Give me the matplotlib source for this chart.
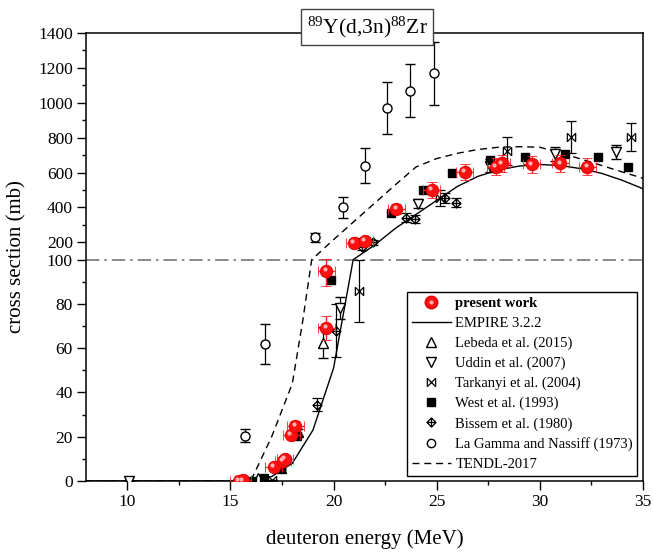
import numpy as np
import matplotlib
matplotlib.use("Agg")
from matplotlib import pyplot as plt
from matplotlib.lines import Line2D
from matplotlib.path import Path
from matplotlib.legend_handler import HandlerTuple
import matplotlib.transforms as mtransforms

plt.rcParams['font.family'] = ['Liberation Serif', 'DejaVu Serif']
plt.rcParams['mathtext.fontset'] = 'custom'
plt.rcParams['mathtext.rm'] = 'Liberation Serif'
plt.rcParams['mathtext.it'] = 'Liberation Serif:italic'

#%% data
pw_x = [15.4, 15.6, 17.1, 17.55, 17.65, 17.95, 18.15, 19.65, 19.65, 21.0, 21.5,
        23.05, 24.75, 26.35, 27.85, 28.15, 29.6, 31.0, 32.3]
pw_y = [0.2, 0.3, 6.5, 9.0, 10.0, 21, 25, 69, 95, 195, 207,
        390, 500, 602, 634, 652, 647, 652, 634]
pw_err = [0.1, 0.1, 0.6, 0.8, 0.9, 1.6, 2.0, 5.5, 7, 15, 16,
          30, 48, 46, 48, 50, 50, 48, 48]
pw_xerr = 0.4

empire_x = [8, 15, 16, 17, 18, 19, 20, 20.95, 22, 23, 24, 25, 26, 27, 28, 29,
            30, 31, 32, 33, 34, 35]
empire_y = [0, 0, 0.3, 2, 8, 23, 51, 100, 185, 280, 360, 440, 520, 578, 615,
            637, 646, 640, 622, 595, 555, 507]

tendl_x = [8, 15, 16, 17, 18, 18.5, 18.94, 20, 21, 22, 23, 24, 25, 26, 27, 28,
           29, 30, 31, 32, 33, 34, 35]
tendl_y = [0, 0, 0.3, 20, 44, 72, 100, 215, 320, 425, 530, 632, 680, 710, 732,
           745, 748, 745, 712, 677, 640, 603, 567]

lebeda_x = [16.35, 17.45, 18.3, 19.5]
lebeda_y = [1.2, 5.7, 22, 62.5]
lebeda_err = [0.2, 0.5, 1.5, 7]

uddin_x = [10.1, 20.3, 24.1, 27.6, 30.75, 33.7]
uddin_y = [0, 78, 422, 640, 706, 720]
uddin_err = [0, 5, 25, 35, 40, 40]

tark_x = [17.0, 21.25, 25.15, 28.4, 31.5, 34.4]
tark_y = [0.3, 86, 455, 722, 803, 803]
tark_err = [0, 14, 45, 80, 90, 80]

west_x = [16.05, 16.65, 17.45, 18.25, 19.9, 21.05, 22.8, 24.35, 25.75, 27.6,
          29.3, 31.2, 32.8, 34.25]
west_y = [0.2, 1.2, 6, 20.5, 91, 200, 370, 500, 596, 674, 689, 709, 689, 631]

bissem_x = [19.2, 20.1, 21.4, 21.9, 23.5, 23.95, 25.4, 25.95]
bissem_y = [34.5, 68, 170, 200, 340, 333, 455, 428]
bissem_err = [3, 12, 15, 15, 25, 25, 30, 25]

lagamma_x = [15.7, 16.7, 19.1, 20.45, 21.5, 22.6, 23.7, 24.85]
lagamma_y = [20.5, 62, 229, 400, 640, 970, 1070, 1170]
lagamma_err = [3, 9, 25, 60, 100, 150, 150, 180]

labels = ['present work', 'EMPIRE 3.2.2', 'Lebeda et al. (2015)',
          'Uddin et al. (2007)', 'Tarkanyi et al. (2004)', 'West et al. (1993)',
          'Bissem et al. (1980)', 'La Gamma and Nassiff (1973)', 'TENDL-2017']

yticks_major = [0, 20, 40, 60, 80, 100, 200, 400, 600, 800, 1000, 1200, 1400]
yticks_minor = [10, 30, 50, 70, 90, 300, 500, 700, 900, 1100, 1300]

#%% broken y scale: 0-100 on the lower half, 100-1400 on the upper half
BREAK = 100.0
YMAX = 1400.0
F = 0.494

def fwd(y):
    y = np.asarray(y, dtype=float)
    return np.where(y <= BREAK, y / BREAK * F, F + (y - BREAK) / (YMAX - BREAK) * (1 - F))

def inv(v):
    v = np.asarray(v, dtype=float)
    return np.where(v <= F, v / F * BREAK, BREAK + (v - F) / (1 - F) * (YMAX - BREAK))

# markers
tark_marker = Path([(-1, -1), (1, 1), (-1, 1), (1, -1), (-1, -1), (-1, 1), (1, -1), (1, 1)],
                   [Path.MOVETO, Path.LINETO, Path.MOVETO, Path.LINETO,
                    Path.MOVETO, Path.LINETO, Path.MOVETO, Path.LINETO])
bissem_marker = Path([(0, 1), (1, 0), (0, -1), (-1, 0), (0, 1), (0, 1), (0, -1), (-1, 0), (1, 0)],
                     [Path.MOVETO, Path.LINETO, Path.LINETO, Path.LINETO, Path.CLOSEPOLY,
                      Path.MOVETO, Path.LINETO, Path.MOVETO, Path.LINETO])

#%%
fig = plt.figure(figsize=(6.53, 5.53), dpi=100)
ax = fig.add_axes([0.1317, 0.1302, 0.853, 0.8101])
ax.set_yscale('function', functions=(fwd, inv))
ax.set_xlim(8, 35)
ax.set_ylim(0, YMAX)

ax.axhline(BREAK, color='#777777', lw=1.2, ls=(0, (8, 3, 1.5, 3)), zorder=1)

ax.plot(empire_x, empire_y, color='black', lw=1.0, zorder=2)
ax.plot(tendl_x, tendl_y, color='black', lw=1.0, ls=(0, (5, 3.5)), zorder=2)

eb = dict(ecolor='black', elinewidth=0.9, capsize=3.5, capthick=0.9, ls='none', zorder=3)
ax.errorbar(lagamma_x, lagamma_y, yerr=lagamma_err, marker='o', ms=6.5,
            mfc='white', mec='black', mew=1.0, **eb)
ax.errorbar(bissem_x, bissem_y, yerr=bissem_err, marker=bissem_marker, ms=6.5,
            mfc='none', mec='black', mew=0.9, **eb)
ax.errorbar(tark_x, tark_y, yerr=tark_err, marker=tark_marker, ms=6,
            mfc='none', mec='black', mew=0.9, **eb)
ax.errorbar(uddin_x, uddin_y, yerr=uddin_err, marker='v', ms=7,
            mfc='white', mec='black', mew=1.0, **eb)
ax.errorbar(lebeda_x, lebeda_y, yerr=lebeda_err, marker='^', ms=7,
            mfc='white', mec='black', mew=1.0, **eb)
ax.plot(west_x, west_y, 's', ms=5.5, color='black', zorder=4)

ax.errorbar(pw_x, pw_y, yerr=pw_err, xerr=pw_xerr, marker='o', ms=9,
            mfc='#ff1010', mec='#e00000', mew=0.6, ecolor='#ff2020',
            elinewidth=1.0, capsize=3.5, capthick=1.0, ls='none', zorder=5)
shine = mtransforms.offset_copy(ax.transData, fig=fig, x=-1.3, y=1.3, units='points')
ax.plot(pw_x, pw_y, 'o', ms=3, color='#ffb0b0', mec='none', transform=shine, zorder=6)

# axes styling
ax.set_xticks([10, 15, 20, 25, 30, 35])
ax.set_xticks([12.5, 17.5, 22.5, 27.5, 32.5], minor=True)
ax.set_yticks(yticks_major)
ax.set_yticklabels([str(t) for t in yticks_major])
ax.set_yticks(yticks_minor, minor=True)
ax.yaxis.set_minor_formatter(plt.NullFormatter())
ax.tick_params(which='major', direction='out', length=6.5, width=1.0, labelsize=12.5,
               top=False, right=False, pad=3)
ax.tick_params(which='minor', direction='out', length=3.2, width=1.0,
               top=False, right=False)
for s in ax.spines.values():
    s.set_linewidth(1.1)

ax.set_xlabel('deuteron energy (MeV)', fontsize=15, labelpad=14)
ax.set_ylabel('cross section (mb)', fontsize=15, labelpad=8)

ax.text(0.5045, 1.013, r'$^{89}$Y(d,3n)$^{88}$Zr', transform=ax.transAxes,
        ha='center', va='center', fontsize=15.5, zorder=10,
        bbox=dict(boxstyle='square,pad=0.25', fc='white', ec='#444444', lw=1.0))

# legend
h_pw = (Line2D([], [], ls='none', marker='o', ms=9, mfc='#ff1010', mec='#e00000'),
        Line2D([], [], ls='none', marker='o', ms=3, color='#ffb0b0', mec='none'))
handles = [
    h_pw,
    Line2D([], [], color='black', lw=1.0),
    Line2D([], [], ls='none', marker='^', ms=6.5, mfc='white', mec='black'),
    Line2D([], [], ls='none', marker='v', ms=6.5, mfc='white', mec='black'),
    Line2D([], [], ls='none', marker=tark_marker, ms=6, mfc='none', mec='black', mew=0.9),
    Line2D([], [], ls='none', marker='s', ms=5.5, color='black'),
    Line2D([], [], ls='none', marker=bissem_marker, ms=6.5, mfc='none', mec='black', mew=0.9),
    Line2D([], [], ls='none', marker='o', ms=6, mfc='white', mec='black'),
    Line2D([], [], color='black', lw=1.0, ls=(0, (5, 3.5))),
]
leg = ax.legend(handles, labels, loc='lower right', bbox_to_anchor=(0.99, 0.012),
                fontsize=10.5, frameon=True, fancybox=False, edgecolor='black',
                framealpha=1, borderpad=0.3, labelspacing=0.46, handlelength=2.7,
                handletextpad=0.3, borderaxespad=0,
                handler_map={tuple: HandlerTuple(ndivide=1, pad=0)})
leg.get_frame().set_linewidth(1.0)
leg.get_texts()[0].set_fontweight('bold')
leg.set_zorder(20)

fig.savefig('out.png', dpi=100)
